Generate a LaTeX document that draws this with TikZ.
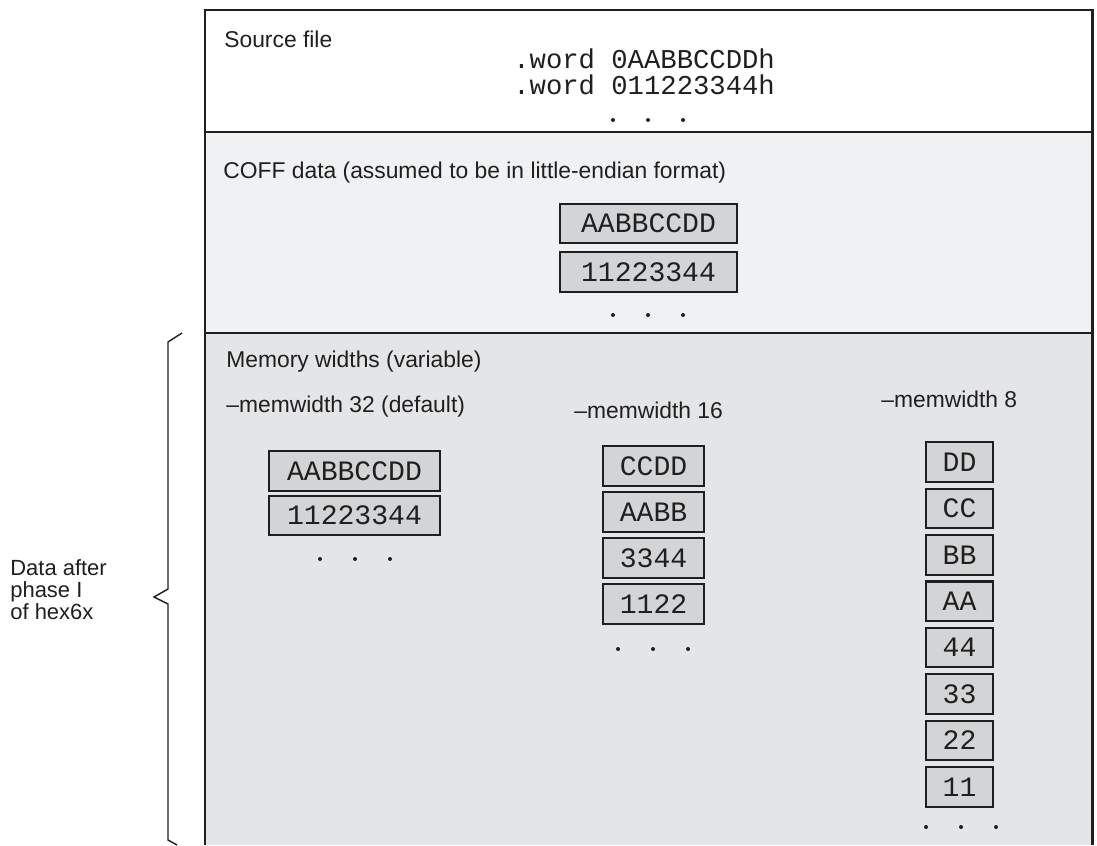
\documentclass[tikz,border=0pt]{standalone}
\usepackage{xcolor}
\usepackage{fontspec}
\setmainfont{Liberation Sans}
\setmonofont{Liberation Mono}
\usepackage{tikz}
\usetikzlibrary{positioning}

\definecolor{coffgray}{HTML}{F0F1F3}
\definecolor{memgray}{HTML}{E4E5E7}
\definecolor{cellgray}{HTML}{D3D4D6}

\begin{document}
\begin{tikzpicture}[
	x=0.02cm, y=-0.02cm,
	font=\fontsize{13}{15}\selectfont
]
\tikzset{
    lbl/.style = {anchor=west, inner sep=0pt, text=black!88},
    code/.style = {anchor=west, inner sep=0pt, font=\ttfamily\fontsize{15.5}{17}\selectfont, text=black!88},
    cell/.style = {rectangle, draw=black!88, line width=1.2pt, fill=cellgray, inner sep=0pt,
                   font=\ttfamily\fontsize{16}{18}\selectfont, text=black!88, minimum height=0.79cm}
}
\newcommand{\threedots}[3]{%
  \foreach \k in {0,1,2} \fill[black!88] (#1+#3*\k,#2) circle (2);}
\useasboundingbox (0,0) rectangle (1097,845);

% sections
\fill[coffgray] (205,132) rectangle (1092,333);
\fill[memgray] (205,333) rectangle (1092,845);
\draw[line width=0.6pt, black!88] (205,132) -- (1092,132);
\draw[line width=0.6pt, black!88] (205,333) -- (1092,333);
\draw[line width=1.7pt, black!88] (205,845) -- (205,10) -- (1092,10) -- (1092,845);

% source file
\node[lbl] (src) at (224,39) {Source file};
\node[code] (w1) at (513,59) {.word 0AABBCCDDh};
\node[code] (w2) at (513,85) {.word 011223344h};
\threedots{613}{120}{35}

% COFF data
\node[lbl] (coff) at (223,173) {COFF data (assumed to be in little-endian format)};
\node[cell,minimum width=3.54cm] (c1) at (648.5,223.5) {AABBCCDD};
\node[cell,minimum width=3.54cm] (c2) at (648.5,272) {11223344};
\threedots{613}{315}{35}

% memory widths
\node[lbl] (mem) at (226,362) {Memory widths (variable)};
\node[lbl] (mw32) at (226,407) {–memwidth 32 (default)};
\node[lbl] (mw16) at (574,410) {–memwidth 16};
\node[lbl] (mw8) at (881,399) {–memwidth 8};

\node[cell,minimum width=3.42cm] (a1) at (354.5,471) {AABBCCDD};
\node[cell,minimum width=3.42cm] (a2) at (354.5,515.5) {11223344};
\threedots{320}{559}{35}

\foreach \t [count=\i from 0] in {CCDD,AABB,3344,1122}
  \node[cell,minimum width=2.02cm] (b\i) at (653.5,466+46*\i) {\t};
\threedots{618}{649}{35}

\foreach \t [count=\i from 0] in {DD,CC,BB,AA,44,33,22,11}
  \node[cell,minimum width=1.34cm] (d\i) at (959.5,462+46.4*\i) {\t};
\threedots{926}{827}{35}

% brace
\draw[line width=0.8pt, black!88] (182,333) -- (168,342) -- (168,589) -- (154,597)
  -- (168,604) -- (168,840) -- (177,845);
\node[lbl, align=left, font=\fontsize{12.5}{12.5}\selectfont] (phase) at (10,590) {Data after\\phase I\\of hex6x};
\end{tikzpicture}
\end{document}
